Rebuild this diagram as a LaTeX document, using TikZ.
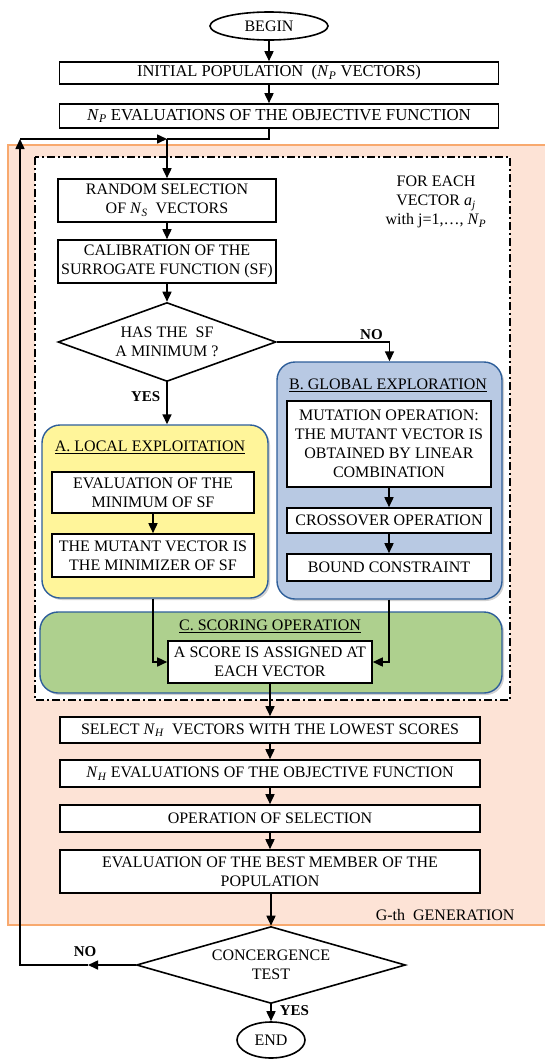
\documentclass[tikz,border=0pt]{standalone}
\usepackage{fontspec}
\setmainfont{Liberation Serif}
\usetikzlibrary{shapes.geometric,arrows.meta,shadows}
\definecolor{genfill}{HTML}{FDE3D6}
\definecolor{genline}{HTML}{F8A96E}
\definecolor{regline}{HTML}{2F5F9A}
\definecolor{locfill}{HTML}{FFF59A}
\definecolor{glofill}{HTML}{B8C9E3}
\definecolor{scofill}{HTML}{AED08E}
\newcommand{\Nsub}[1]{\textit{N}\textsubscript{\textit{#1}}}
\tikzset{
  stepbox/.style  = {shape=rectangle, draw, fill=white, align=center,
                     inner sep=1pt, line width=1.6pt},
  termnode/.style = {shape=ellipse, draw, fill=white, inner sep=0pt, line width=1.6pt},
  decision/.style = {shape=diamond, draw, fill=white, align=center,
                     inner sep=0pt, line width=1.6pt},
  region/.style   = {shape=rectangle, rounded corners=18pt, draw=regline,
                     line width=1.4pt,
                     drop shadow={shadow xshift=2pt, shadow yshift=-2pt, fill=gray!70}},
  regtitle/.style = {inner sep=0pt},
  flow/.style     = {-{Triangle[length=10pt,width=9pt]}, line width=1.6pt},
  answer/.style   = {font=\fontsize{15}{17}\selectfont\bfseries, inner sep=2pt}
}

\begin{document}
\begin{tikzpicture}[x=1pt, y=-1pt,
  every node/.style={font=\fontsize{16}{19}\selectfont}]
  \useasboundingbox (0,0) rectangle (545,1061);

  % generation area and loop frame
  \draw[genline, fill=genfill, line width=1.3pt] (8,145) rectangle (552,925);
  \draw[fill=white, line width=1.8pt, dash pattern=on 8pt off 3pt on 2pt off 3pt]
    (35,157) rectangle (510,700);

  % start
  \node[termnode, minimum width=118, minimum height=28] (begin) at (269,26) {BEGIN};
  \node[stepbox, minimum width=439, minimum height=22] (init) at (279,73)
    {\fontsize{16.5}{19}\selectfont INITIAL POPULATION~ (\Nsub{P} VECTORS)};
  \node[stepbox, minimum width=439, minimum height=24] (eval) at (279,116)
    {\fontsize{16.8}{19}\selectfont\Nsub{P} EVALUATIONS OF THE OBJECTIVE FUNCTION};
  \coordinate (jn) at (167,139);

  % surrogate part
  \node[stepbox, minimum width=218, minimum height=43] (rand) at (167,200.5)
    {RANDOM SELECTION\\OF \Nsub{S}~ VECTORS};
  \node[stepbox, minimum width=218, minimum height=43] (calib) at (167,261.5)
    {CALIBRATION OF THE\\SURROGATE FUNCTION (SF)};
  \node[decision, minimum width=218, minimum height=79, aspect=2.76] (hasmin) at (167,342)
    {HAS THE~ SF\\A MINIMUM ?};
  \node[align=center] (foreach) at (436,202)
    {FOR EACH\\VECTOR \textit{a}\textsubscript{\textit{j}}\\with j=1,\dots, \Nsub{P}};

  % A. local exploitation
  \node[region, fill=locfill, minimum width=226, minimum height=173] (Areg) at (155,511.5) {};
  \node[regtitle] (Atitle) at (150,447) {\underline{A. LOCAL EXPLOITATION}};
  \node[stepbox, minimum width=202, minimum height=41] (evalmin) at (153,492.5)
    {EVALUATION OF THE\\MINIMUM OF SF};
  \node[stepbox, minimum width=202, minimum height=43] (mutmin) at (153,555.5)
    {THE MUTANT VECTOR IS\\THE MINIMIZER OF SF};

  % B. global exploration
  \node[region, fill=glofill, minimum width=225, minimum height=237] (Breg) at (389.5,480.5) {};
  \node[regtitle] (Btitle) at (388,385) {\underline{B. GLOBAL EXPLORATION}};
  \node[stepbox, minimum width=204, minimum height=86] (mutop) at (389,444)
    {MUTATION OPERATION:\\THE MUTANT VECTOR IS\\OBTAINED BY LINEAR\\COMBINATION};
  \node[stepbox, minimum width=204, minimum height=25] (cross) at (389,520.5)
    {CROSSOVER OPERATION};
  \node[stepbox, minimum width=204, minimum height=27] (bound) at (389,567.5)
    {BOUND CONSTRAINT};

  % C. scoring
  \node[region, fill=scofill, minimum width=462, minimum height=81] (Creg) at (271,652.5) {};
  \node[regtitle] (Ctitle) at (270,626) {\underline{C. SCORING OPERATION}};
  \node[stepbox, minimum width=204, minimum height=42] (score) at (270,662)
    {A SCORE IS ASSIGNED AT\\EACH VECTOR};

  % selection and end
  \node[stepbox, minimum width=420, minimum height=26] (select) at (270,730)
    {SELECT \Nsub{H}~ VECTORS WITH THE LOWEST SCORES};
  \node[stepbox, minimum width=420, minimum height=27] (nheval) at (270,773.5)
    {\Nsub{H} EVALUATIONS OF THE OBJECTIVE FUNCTION};
  \node[stepbox, minimum width=420, minimum height=27] (opsel) at (270,818.5)
    {OPERATION OF SELECTION};
  \node[stepbox, minimum width=420, minimum height=43] (best) at (270,871.5)
    {EVALUATION OF THE BEST MEMBER OF THE\\POPULATION};
  \node[anchor=east] (gen) at (518,915) {G-th~ GENERATION};
  \node[decision, minimum width=269, minimum height=77, aspect=3.49] (conv) at (271,965)
    {CONCERGENCE\\TEST};
  \node[termnode, minimum width=68, minimum height=36] (end) at (271,1040) {END};
  \coordinate (noarr) at (88,965);
  \coordinate (loopbot) at (20,965);
  \coordinate (looptop) at (20,139);

  % connectors
  \draw[flow] (begin) -- (begin |- init.north);
  \draw[flow] (begin |- init.south) -- (begin |- eval.north);
  \draw[line width=1.6pt] (begin |- eval.south) |- (jn);
  \draw[flow] (jn) -- (rand);
  \draw[flow] (rand) -- (calib);
  \draw[flow] (calib) -- (hasmin);
  \draw[flow] (hasmin.east) -| (Breg.north)
    node[answer, pos=0.42, above] {NO};
  \draw[flow] (hasmin.south) -- (hasmin.south |- Areg.north)
    node[answer, pos=0.35, left=4pt] {YES};
  \draw[flow] (evalmin) -- (mutmin);
  \draw[flow] (mutop) -- (cross);
  \draw[flow] (cross) -- (bound);
  \draw[flow] (Areg.south -| evalmin) |- (score.west);
  \draw[flow] (Breg.south -| bound) |- (score.east);
  \draw[flow] (score) -- (select);
  \draw[flow] (select) -- (nheval);
  \draw[flow] (nheval) -- (opsel);
  \draw[flow] (opsel) -- (best);
  \draw[flow] (best.south -| conv) -- (conv.north);
  \draw[flow] (conv) -- (end)
    node[answer, pos=0.35, right=6pt] {YES};
  \draw[flow] (conv.west) -- (noarr)
    node[answer, above, yshift=6pt, xshift=-3pt] {NO};
  \draw[flow] (noarr) -- (loopbot) -- (looptop);
  \draw[flow] (looptop) -- (jn);
\end{tikzpicture}
\end{document}
